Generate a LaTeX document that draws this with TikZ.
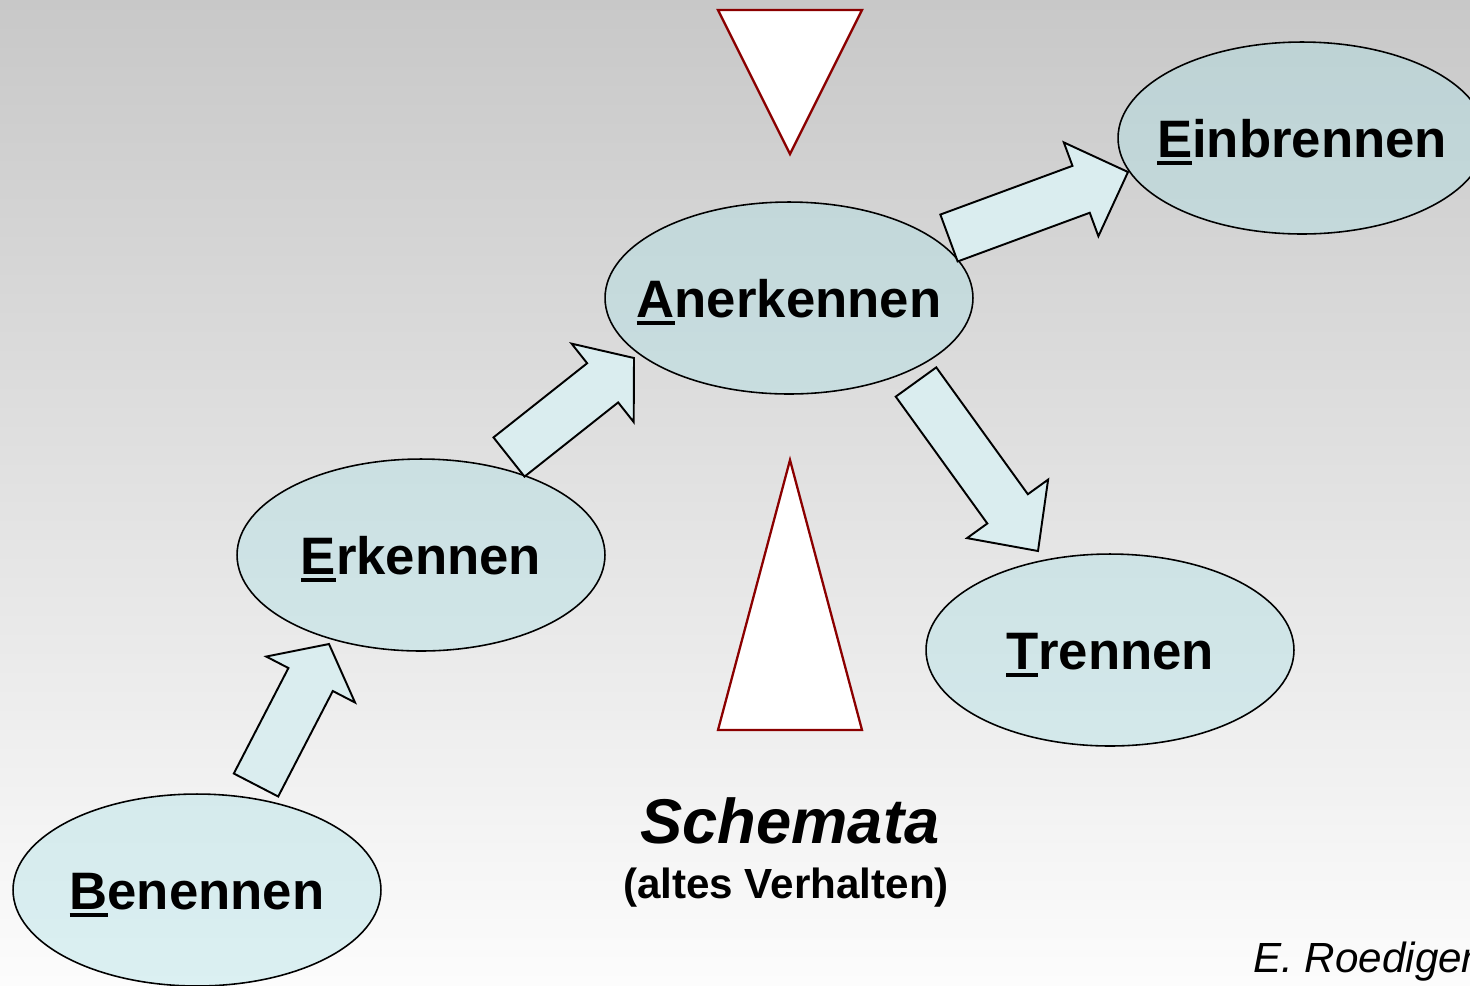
\documentclass[tikz,border=0pt]{standalone}
\usepackage{fontspec}
\setmainfont{Liberation Sans}
\usetikzlibrary{calc}
\usetikzlibrary{shapes.geometric}
\definecolor{bgtop}{RGB}{200,200,200}
\definecolor{bgbot}{RGB}{252,252,252}
\definecolor{ovlfill}{RGB}{174,224,229}
\definecolor{arrfill}{RGB}{218,237,239}
\definecolor{trired}{RGB}{139,0,0}
\newcommand{\shafthw}{0.5cm}
\newcommand{\headhw}{1.0cm}
\newsavebox{\ulbox}
\newcommand{\firstul}[1]{\sbox{\ulbox}{#1}%
  \rlap{\rule[-4.6pt]{\wd\ulbox}{2.6pt}}\usebox{\ulbox}}
\newcommand{\stagelbl}[2]{\makebox[0pt]{\firstul{#1}#2}}
\newcommand{\blkarrow}[3][0.8cm]{
  \coordinate (hb) at ($(#3)!#1!(#2)$);
  \draw[blkarr] ($(#2)!\shafthw!90:(#3)$) -- ($(hb)!\shafthw!-90:(#2)$)
    -- ($(hb)!\headhw!-90:(#2)$) -- (#3) -- ($(hb)!\headhw!90:(#2)$)
    -- ($(hb)!\shafthw!90:(#2)$) -- ($(#2)!\shafthw!-90:(#3)$) -- cycle;}
\tikzset{
  stage/.style={ellipse, draw=black, line width=0.9pt, fill=ovlfill,
    fill opacity=0.42, text opacity=1, minimum width=7.36cm,
    minimum height=3.84cm, inner sep=0pt, text height=22pt, text depth=0pt,
    font=\fontsize{30}{36}\selectfont\bfseries},
  blkarr/.style={draw=black, line width=1.1pt, fill=arrfill, line join=miter},
  schemtri/.style={draw=trired, line width=1.3pt, fill=white}
}
\begin{document}
\begin{tikzpicture}[x=0.02cm,y=-0.02cm]
    \useasboundingbox (0,0) rectangle (1470,985);
    \clip (0,0) rectangle (1470,985);
    \shade[top color=bgtop, bottom color=bgbot] (0,0) rectangle (1470,985);

    \node[stage] (ben) at (197,890) {\stagelbl{B}{enennen}};
    \node[stage] (erk) at (421,555) {\stagelbl{E}{rkennen}};
    \node[stage] (ank) at (789,298) {\stagelbl{A}{nerkennen}};
    \node[stage] (einb) at (1302,138) {\stagelbl{E}{inbrennen}};
    \node[stage] (tren) at (1110,650) {\stagelbl{T}{rennen}};

    \coordinate (ben-o) at ($(ben)+(59,-105)$);
    \coordinate (erk-i) at ($(erk)+(-92,89)$);
    \coordinate (erk-o) at ($(erk)+(88,-98)$);
    \coordinate (ank-i) at ($(ank)+(-155,60)$);
    \coordinate (ank-oa) at ($(ank)+(160,-60)$);
    \coordinate (einb-i) at ($(einb)+(-174,34)$);
    \coordinate (ank-ob) at ($(ank)+(127,84)$);
    \coordinate (tren-i) at ($(tren)+(-72,-99)$);

    \blkarrow{ben-o}{erk-i}
    \blkarrow{erk-o}{ank-i}
    \blkarrow[1.0cm]{ank-oa}{einb-i}
    \blkarrow[1.04cm]{ank-ob}{tren-i}

    \draw[schemtri] (718,10) -- (862,10) -- (790,154) -- cycle;
    \draw[schemtri] (790,460) -- (862,730) -- (718,730) -- cycle;

    \node[anchor=base, font=\fontsize{36}{43}\selectfont\bfseries\itshape]
      (schema) at (790,843) {Schemata};
    \node[anchor=base, font=\fontsize{24}{29}\selectfont\bfseries]
      (altverh) at (786,898) {(altes Verhalten)};
    \node[anchor=base west, inner sep=0pt, font=\fontsize{24}{29}\selectfont\itshape]
      (autor) at (1253,972) {E. Roediger};
\end{tikzpicture}
\end{document}
